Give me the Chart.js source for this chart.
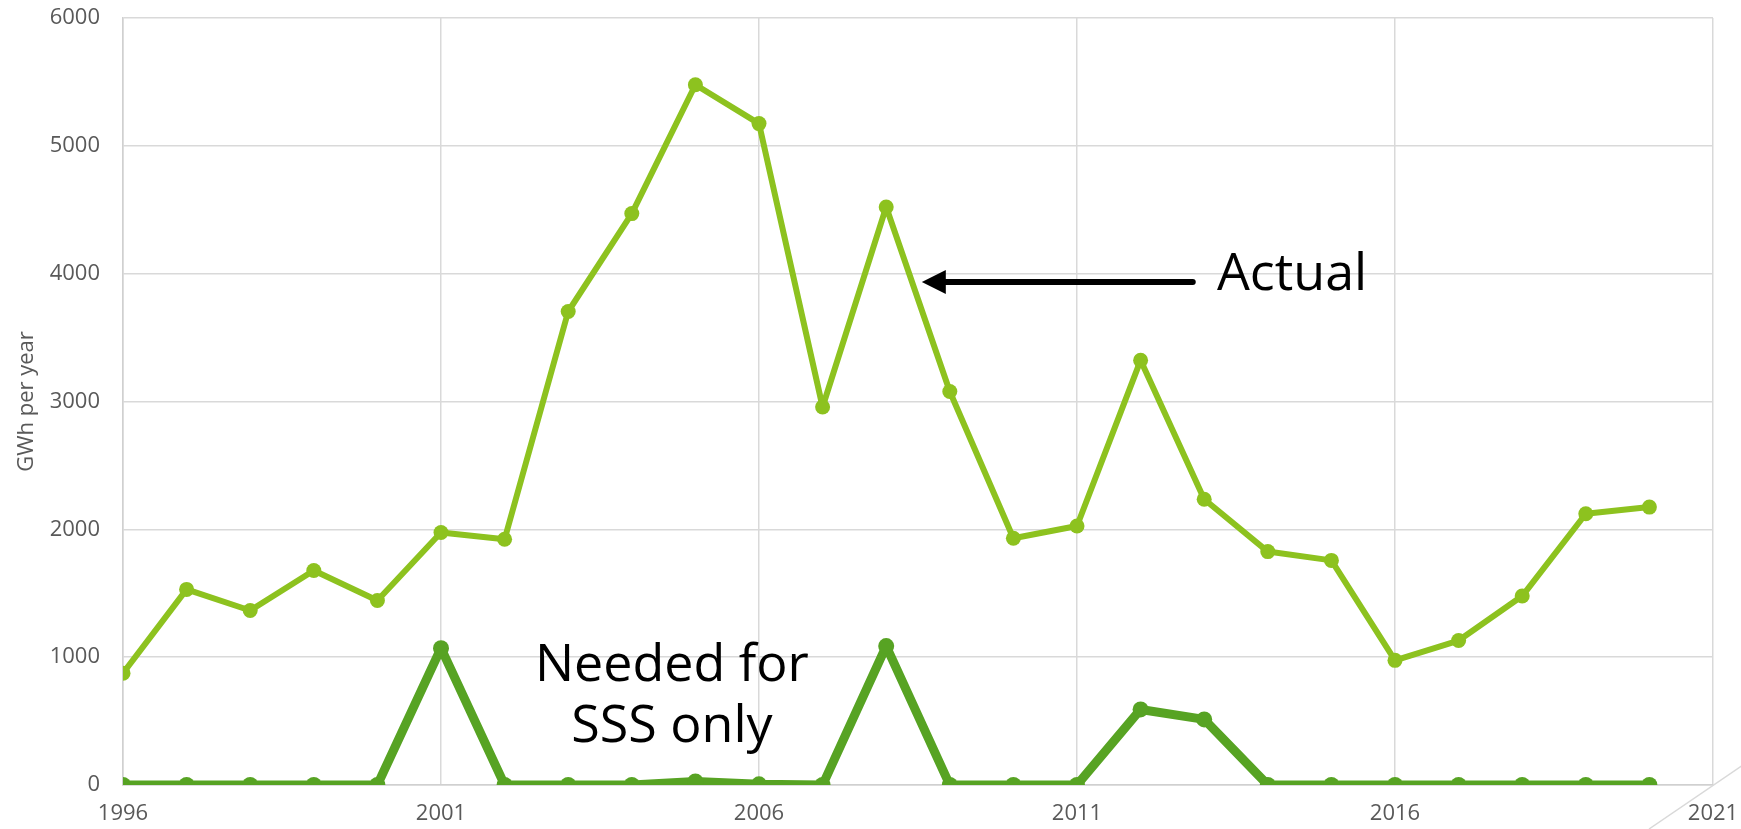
<!DOCTYPE html>
<html>
<head>
<meta charset="utf-8">
<script src="https://cdn.jsdelivr.net/npm/chart.js@4/dist/chart.umd.min.js"></script>
<style>
  html, body { margin: 0; padding: 0; background: #ffffff; }
  #wrap { width: 1741px; height: 829px; position: relative; }
</style>
</head>
<body>
<div id="wrap"><canvas id="c" width="1741" height="829"></canvas></div>
<script>
// Annual energy, GWh per year
const years = [1996, 1997, 1998, 1999, 2000, 2001, 2002, 2003, 2004, 2005, 2006, 2007, 2008,
               2009, 2010, 2011, 2012, 2013, 2014, 2015, 2016, 2017, 2018, 2019, 2020];
const actual = [875, 1530, 1365, 1678, 1443, 1975, 1922, 3704, 4470, 5478, 5174, 2957, 4522,
                3078, 1930, 2026, 3322, 2235, 1826, 1757, 975, 1130, 1478, 2122, 2174];
const sssOnly = [0, 0, 0, 0, 0, 1070, 0, 0, 0, 28, 5, 0, 1087,
                 0, 0, 0, 591, 513, 0, 0, 0, 0, 0, 0, 0];
const yTicks = [0, 1000, 2000, 3000, 4000, 5000, 6000];
const xTicks = [1996, 2001, 2006, 2011, 2016, 2021];

const FONT = "'Open Sans', 'Noto Sans', sans-serif";

// Callouts and the corner diagonal
const notes = {
  id: 'notes',
  afterDatasetsDraw(chart) {
    const { ctx, chartArea, scales: { x, y } } = chart;
    ctx.save();

    // diagonal through the lower-right corner of the plot
    ctx.strokeStyle = '#d9d9d9';
    ctx.lineWidth = 1.5;
    ctx.beginPath();
    ctx.moveTo(chartArea.right - 64, chartArea.bottom + 44);
    ctx.lineTo(chartArea.right + 30, chartArea.bottom - 20);
    ctx.stroke();

    // arrow pointing at the Actual line
    const tipX = x.getPixelForValue(2008.56);
    const tailX = x.getPixelForValue(2012.82);
    const ay = y.getPixelForValue(3935);
    ctx.strokeStyle = '#000';
    ctx.fillStyle = '#000';
    ctx.lineWidth = 6;
    ctx.lineCap = 'round';
    ctx.beginPath();
    ctx.moveTo(tailX, ay);
    ctx.lineTo(tipX + 20, ay);
    ctx.stroke();
    ctx.beginPath();
    ctx.moveTo(tipX, ay);
    ctx.lineTo(tipX + 24, ay - 12);
    ctx.lineTo(tipX + 24, ay + 12);
    ctx.closePath();
    ctx.fill();

    ctx.font = '52px ' + FONT;
    ctx.textBaseline = 'alphabetic';
    ctx.textAlign = 'left';
    ctx.fillText('Actual', x.getPixelForValue(2013.2), y.getPixelForValue(3873));

    ctx.textAlign = 'center';
    const cx = x.getPixelForValue(2004.63);
    ctx.fillText('Needed for', cx, y.getPixelForValue(814));
    ctx.fillText('SSS only', cx, y.getPixelForValue(336));
    ctx.restore();
  }
};

new Chart(document.getElementById('c'), {
  type: 'line',
  data: {
    datasets: [
      {
        label: 'Actual',
        data: years.map((yr, i) => ({ x: yr, y: actual[i] })),
        borderColor: '#8dc21f',
        backgroundColor: '#8dc21f',
        borderWidth: 6,
        borderJoinStyle: 'round',
        pointRadius: 7.5,
        pointBorderWidth: 0,
        pointHoverRadius: 7.5,
        tension: 0
      },
      {
        label: 'Needed for SSS only',
        data: years.map((yr, i) => ({ x: yr, y: sssOnly[i] })),
        borderColor: '#57a323',
        backgroundColor: '#57a323',
        borderWidth: 9,
        borderJoinStyle: 'round',
        pointRadius: 8,
        pointBorderWidth: 0,
        pointHoverRadius: 8,
        tension: 0
      }
    ]
  },
  options: {
    responsive: false,
    animation: false,
    events: [],
    layout: { padding: { top: 18, right: 28, left: 0, bottom: 0 } },
    plugins: { legend: { display: false }, tooltip: { enabled: false } },
    scales: {
      x: {
        type: 'linear',
        min: xTicks[0],
        max: xTicks[xTicks.length - 1],
        afterBuildTicks: s => { s.ticks = xTicks.map(v => ({ value: v })); },
        afterFit: s => { s.height = 44; s.paddingLeft = 0; s.paddingRight = 0; },
        grid: { color: '#d9d9d9', lineWidth: 1.5, drawTicks: false },
        border: { color: '#d0d0d0', width: 1.5 },
        ticks: {
          color: '#595959',
          font: { family: FONT, size: 22 },
          padding: 16,
          maxRotation: 0,
          callback: v => String(v)
        }
      },
      y: {
        min: yTicks[0],
        max: yTicks[yTicks.length - 1],
        afterBuildTicks: s => { s.ticks = yTicks.map(v => ({ value: v })); },
        afterFit: s => { s.width = 123; s.paddingTop = 0; s.paddingBottom = 0; },
        grid: { color: '#d9d9d9', lineWidth: 1.5, drawTicks: false },
        border: { color: '#d0d0d0', width: 1.5 },
        title: {
          display: true,
          text: 'GWh per year',
          color: '#595959',
          font: { family: FONT, size: 22 },
          padding: { top: 14, bottom: 0 }
        },
        ticks: {
          color: '#595959',
          font: { family: FONT, size: 22 },
          padding: 23,
          callback: v => String(v)
        }
      }
    }
  },
  plugins: [notes]
});
</script>
</body>
</html>
